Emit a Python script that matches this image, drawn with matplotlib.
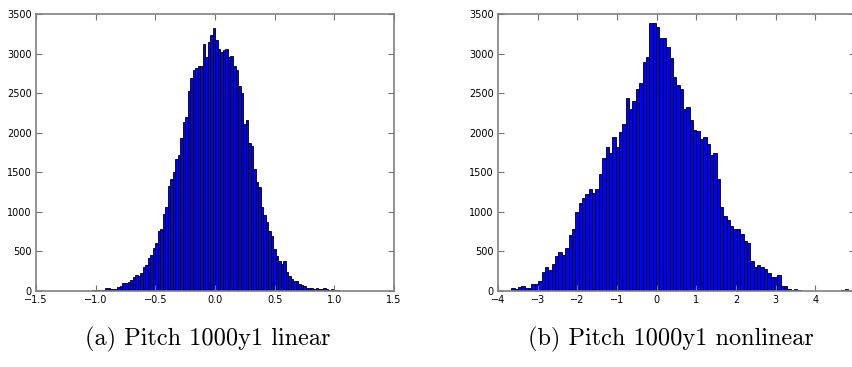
import numpy as np
import matplotlib
matplotlib.use('Agg')
import matplotlib.pyplot as plt

# bin ranges + counts (100 bins each)
lin_range = (-1.07, 1.035)
lin_counts = [
    5, 5, 8, 15, 15, 15, 18, 35, 35, 30, 25, 30,
    46, 63, 97, 101, 110, 139, 173, 202, 194, 232, 299, 333, 413, 455, 539, 602,
    762, 784, 973, 1057, 1327, 1411, 1508, 1668,
    1719, 1930, 2140, 2203, 2532, 2697, 2793, 2815, 2848, 2848, 3118, 2962, 3143, 3236,
    3320, 3173, 3055, 3017, 3046, 3055, 2962, 2970, 2844, 2793, 2591, 2500, 2111, 2161,
    1870, 1835,
    1538, 1382, 1311, 1066, 961, 868, 762, 695, 527, 443, 384, 341, 379, 244, 194, 148,
    126, 130, 88, 76, 63, 42, 34, 34, 29, 34, 25, 25, 38, 21, 17, 21, 13, 8,
]

nonlin_range = (-3.665, 4.824)
nonlin_counts = [
    42, 29, 51, 59, 42, 34, 84, 84, 126, 244, 299, 265, 337, 447, 497, 455, 539, 708,
    784, 1003, 1116, 1180, 1226, 1285, 1243,
    1289, 1479, 1677, 1820, 1740, 1946, 1824, 2010, 2111, 2435, 2304, 2401, 2549, 2625,
    2890, 2953, 3382, 3391, 3340, 3193, 3193, 3087, 2948, 2700, 2603,
    2553, 2300, 2321, 2161, 2035, 2018, 1925, 1946, 1854, 1723,
    1740, 1420, 1066, 952, 897, 822, 784, 784, 720, 632,
    602, 383, 307, 324, 299, 278, 223, 173, 173, 202,
    63, 63, 25, 13, 21, 8, 5, 4, 3, 4,
    2, 3, 2, 2, 3, 2, 3, 4, 8, 21,
]

captions = ['(a) Pitch 1000y1 linear', '(b) Pitch 1000y1 nonlinear']
lin_xticks = [-1.5, -1.0, -0.5, 0.0, 0.5, 1.0, 1.5]
nonlin_xticks = [-4, -3, -2, -1, 0, 1, 2, 3, 4]
yticks = [0, 500, 1000, 1500, 2000, 2500, 3000, 3500]

fig = plt.figure(figsize=(8.53, 3.67), dpi=100)
ax1 = fig.add_axes([0.0422, 0.2071, 0.4197, 0.7548])
ax2 = fig.add_axes([0.5838, 0.2071, 0.4185, 0.7548])


def draw_hist(ax, rng, counts, xlim, xticks):
    edges = np.linspace(rng[0], rng[1], len(counts) + 1)
    ax.bar(edges[:-1], counts, width=np.diff(edges), align='edge',
           color='#0000ff', edgecolor='black', linewidth=0.6)
    ax.set_xlim(*xlim)
    ax.set_ylim(0, 3500)
    ax.set_xticks(xticks)
    ax.set_yticks(yticks)
    ax.tick_params(direction='in', top=True, right=True, length=4,
                   width=0.8, color='0.45', labelsize=7, pad=3)
    for s in ax.spines.values():
        s.set_color('0.5')
        s.set_linewidth(1.2)


draw_hist(ax1, lin_range, lin_counts, (-1.5, 1.5), lin_xticks)
draw_hist(ax2, nonlin_range, nonlin_counts, (-4, 5), nonlin_xticks)

fig.text(0.244, 0.076, captions[0], ha='center', va='center',
         family='cmr10', fontsize=17.5)
fig.text(0.787, 0.076, captions[1], ha='center', va='center',
         family='cmr10', fontsize=17.5)

fig.savefig('out.png', dpi=100)
